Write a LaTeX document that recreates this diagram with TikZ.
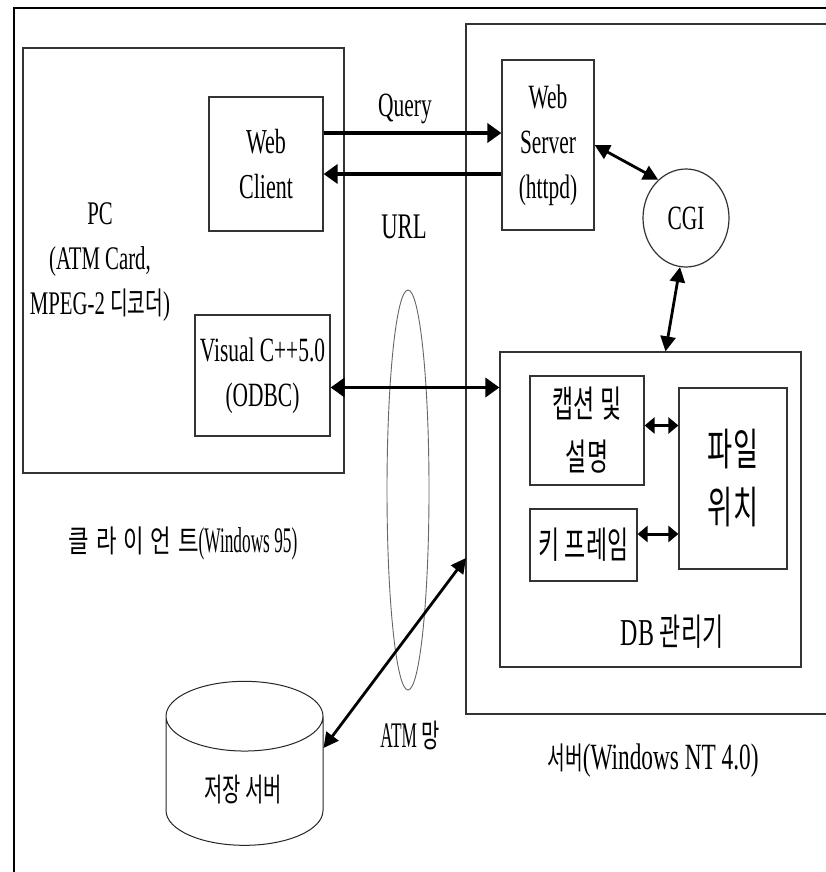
\documentclass[tikz,border=0pt]{standalone}
\usepackage{fontspec}
\setmainfont{Liberation Serif}[FakeStretch=0.63]
\newfontfamily\narrowfont{Liberation Serif}[FakeStretch=0.48]
\newfontfamily\kor{Noto Sans CJK KR}[FakeStretch=0.62]
\newfontfamily\korwide{Noto Sans CJK KR}[FakeStretch=0.72,LetterSpace=22]
\usepackage{tikz}
\usetikzlibrary{arrows.meta,positioning,shapes.geometric}
\newcommand{\fsz}[1]{\fontsize{#1}{45}\selectfont}
\newcommand{\ksz}[2]{\kor\fontsize{#1}{#2}\selectfont}

\begin{document}
\begin{tikzpicture}[
  x=1pt, y=-1pt,
  box/.style={draw=black!80, line width=1.2pt, align=center, inner sep=0pt},
  lbl/.style={inner sep=0pt, align=center},
  arr/.style={->, line width=3.5pt, >={Triangle[length=14pt,width=19pt]}},
  darr/.style={arr, <->},
  sarr/.style={<->, line width=3pt, >={Triangle[length=10pt,width=16pt]}},
  tarr/.style={<->, line width=2.8pt, >={Triangle[length=15pt,width=15pt]}}
]
\useasboundingbox (0,0) rectangle (826,872);
\fill[white] (0,0) rectangle (826,872);
\draw[line width=2.8pt] (14,8) rectangle (834,884);

\node[box, minimum width=321pt, minimum height=425pt] (client) at (183.5,260.5) {};
\node[box, minimum width=114pt, minimum height=134pt, font=\fsz{35}] (wc) at (266,164) {Web\\Client};
\node[box, minimum width=135pt, minimum height=121pt, font=\fsz{34}] (vc) at (262.5,375.5) {Visual C++5.0\\(ODBC)};
\node[lbl, font=\fsz{33}] (pc) at (100,262) {PC\\(ATM Card,\\MPEG-2 {\ksz{31}{45}디코더})};
\node[lbl, anchor=base] (clientlbl) at (183,552) {{\korwide\fontsize{31}{31}\selectfont 클라이언트}{\narrowfont\fontsize{36}{36}\selectfont(Windows 95)}};

\node[box, minimum width=366pt, minimum height=690pt] (srv) at (649,369) {};
\node[box, minimum width=92pt, minimum height=170pt, font=\fsz{34}] (ws) at (548,145) {Web\\Server\\(httpd)};
\node[box, ellipse, minimum width=86pt, minimum height=98pt, font=\fsz{34}] (cgi) at (686,218) {CGI};
\node[box, minimum width=301pt, minimum height=315pt] (db) at (650.5,509.5) {};
\node[box, minimum width=114pt, minimum height=109pt, font=\ksz{37}{53}] (cap) at (587,430.5) {캡션 및\\설명};
\node[box, minimum width=107pt, minimum height=72pt, font=\ksz{37}{37}] (key) at (583.5,545) {키 프레임};
\node[box, minimum width=108pt, minimum height=181pt, font=\ksz{44}{58}] (file) at (733,478.5) {파일\\위치};
\node[lbl, anchor=base, font=\fsz{38}] (dblbl) at (672,645) {DB {\ksz{37}{37}관리기}};
\node[lbl, anchor=base, font=\fsz{37}] (srvlbl) at (653,769) {{\ksz{31}{31}서버}(Windows NT 4.0)};

\node[draw=black!60, line width=0.9pt, ellipse, inner sep=0pt, minimum width=42pt, minimum height=400pt] (atm) at (408,490) {};
\node[lbl, anchor=base, font=\narrowfont\fontsize{36}{36}\selectfont] (atmlbl) at (410,747) {ATM {\ksz{32}{32}망}};

\node[draw=black!85, line width=1pt, cylinder, shape border rotate=90, aspect=0.9, minimum width=157pt, minimum height=164pt, inner sep=0pt, font=\ksz{32}{32}] (store) at (244.5,781) {\phantom{저장 서버}};
\node[lbl, font=\ksz{32}{32}] (storelbl) at (243,790) {저장 서버};
\coordinate (srvin) at (466,558);

\node[lbl, anchor=base, font=\fsz{34}] (query) at (405,117) {Query};
\node[lbl, anchor=base, font=\fsz{36}] (url) at (404,238) {URL};

\draw[arr] ([yshift=31pt]wc.east) -- ([yshift=31pt]wc.east -| ws.west);
\draw[arr] ([yshift=-29pt]ws.west) -- ([yshift=-29pt]ws.west -| wc.east);
\draw[darr] ([yshift=-12pt]vc.east) -- ([yshift=-12pt]vc.east -| db.west);
\draw[tarr] (ws.east) -- (cgi.126);
\draw[tarr] (cgi.263) -- ([xshift=15pt]db.north);
\draw[sarr] ([yshift=5pt]cap.east) -- ([yshift=5pt]cap.east -| file.west);
\draw[sarr] ([yshift=11pt]key.east) -- ([yshift=11pt]key.east -| file.west);
\draw[tarr] ([yshift=33pt]store.east) -- (srvin);
\end{tikzpicture}
\end{document}
